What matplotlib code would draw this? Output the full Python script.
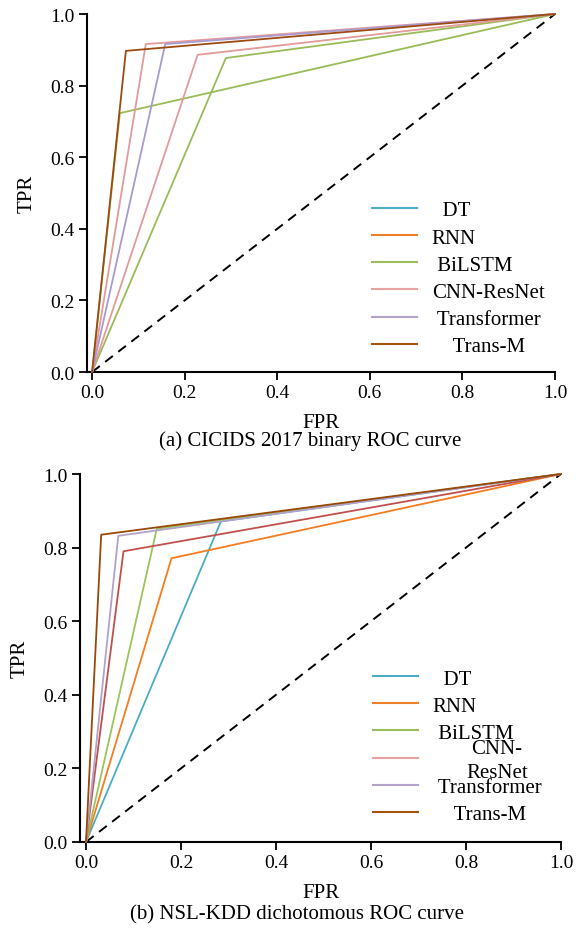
import matplotlib
matplotlib.use("Agg")
import matplotlib.pyplot as plt
from matplotlib.lines import Line2D
from matplotlib.ticker import FormatStrFormatter

plt.rcParams['font.family'] = ['Liberation Serif', 'DejaVu Serif']

# модели и точки излома ROC-кривых (FPR, TPR)
models = ["DT", "RNN", "BiLSTM", "CNN-ResNet", "Transformer", "Trans-M"]
legend_labels = ["  DT", "RNN", " BiLSTM", "CNN-ResNet", " Transformer", "    Trans-M"]
legend_colors = ["#4bacc6", "#f07f2a", "#9bbb59", "#e8a2a2", "#b3a2c7", "#a5520f"]

# (a) CICIDS 2017
cic_fpr = [0.060, 0.116, 0.289, 0.228, 0.158, 0.073]
cic_tpr = [0.723, 0.916, 0.877, 0.886, 0.916, 0.897]
cic_colors = ["#9bbb59", "#e39a9a", "#9bbb59", "#e39a9a", "#a99ad0", "#9c4a12"]

# (b) NSL-KDD
nsl_fpr = [0.284, 0.180, 0.149, 0.079, 0.068, 0.032]
nsl_tpr = [0.871, 0.771, 0.851, 0.790, 0.832, 0.835]
nsl_colors = ["#4bacc6", "#f57c1f", "#9bc45a", "#c0504d", "#b3a2c7", "#984807"]

ticks = [0.0, 0.2, 0.4, 0.6, 0.8, 1.0]

fig = plt.figure(figsize=(5.83, 9.29), dpi=100)
W, H = 583, 929


def make_axes(left, right, top, bottom):
    return fig.add_axes([left / W, 1 - bottom / H, (right - left) / W, (bottom - top) / H])


def draw_panel(ax, fpr, tpr, colors, x0):
    for k in range(len(models)):
        ax.plot([0, fpr[k], 1], [0, tpr[k], 1], color=colors[k], lw=1.3,
                clip_on=False, zorder=3)
    diag, = ax.plot([0, 1], [0, 1], color="black", lw=1.4, clip_on=False, zorder=2)
    diag.set_dashes([5, 3.5])
    ax.set_xlim(x0, 1.0)
    ax.set_ylim(0, 1.0)
    ax.set_xticks(ticks)
    ax.set_yticks(ticks)
    ax.xaxis.set_major_formatter(FormatStrFormatter('%.1f'))
    ax.yaxis.set_major_formatter(FormatStrFormatter('%.1f'))
    for s in ["top", "right"]:
        ax.spines[s].set_visible(False)
    for s in ["left", "bottom"]:
        ax.spines[s].set_linewidth(1.5)
    ax.tick_params(direction="out", length=6, width=1.3, labelsize=14, pad=3)
    ax.set_xlabel("FPR", fontsize=15, labelpad=8)
    ax.set_ylabel("TPR", fontsize=15, labelpad=10)
    handles = [Line2D([], [], color=c, lw=1.5) for c in legend_colors]
    return handles


leg_kw = dict(loc="upper left", frameon=False, fontsize=15, handlelength=2.15,
              handletextpad=0.72, labelspacing=0.36, borderpad=0, borderaxespad=0)

# верхняя панель
ax1 = make_axes(87, 555, 15, 373)
h = draw_panel(ax1, cic_fpr, cic_tpr, cic_colors, -0.011)
ax1.legend(h, legend_labels, bbox_to_anchor=(0.609, 0.478), **leg_kw)
fig.text(310 / W, 1 - 441 / H, "(a) CICIDS 2017 binary ROC curve", ha="center",
         va="center", fontsize=15)

# нижняя панель
ax2 = make_axes(80, 561, 475, 843)
h = draw_panel(ax2, nsl_fpr, nsl_tpr, nsl_colors, -0.0126)
labels2 = list(legend_labels)
labels2[3] = " "
leg2 = ax2.legend(h, labels2, bbox_to_anchor=(0.609, 0.47), **leg_kw)
fig.text(297 / W, 1 - 915 / H, "(b) NSL-KDD dichotomous ROC curve", ha="center",
         va="center", fontsize=15)

# подпись CNN-ResNet в две строки, как в оригинале
fig.canvas.draw()
hb = leg2.get_lines()[3].get_window_extent()
yc = (hb.y0 + hb.y1) / 2
fig.text(497 / W, yc / H - 0.003, "CNN-\nResNet", ha="center", va="center",
         fontsize=15, linespacing=1.4)

fig.savefig("out.png", dpi=100)
